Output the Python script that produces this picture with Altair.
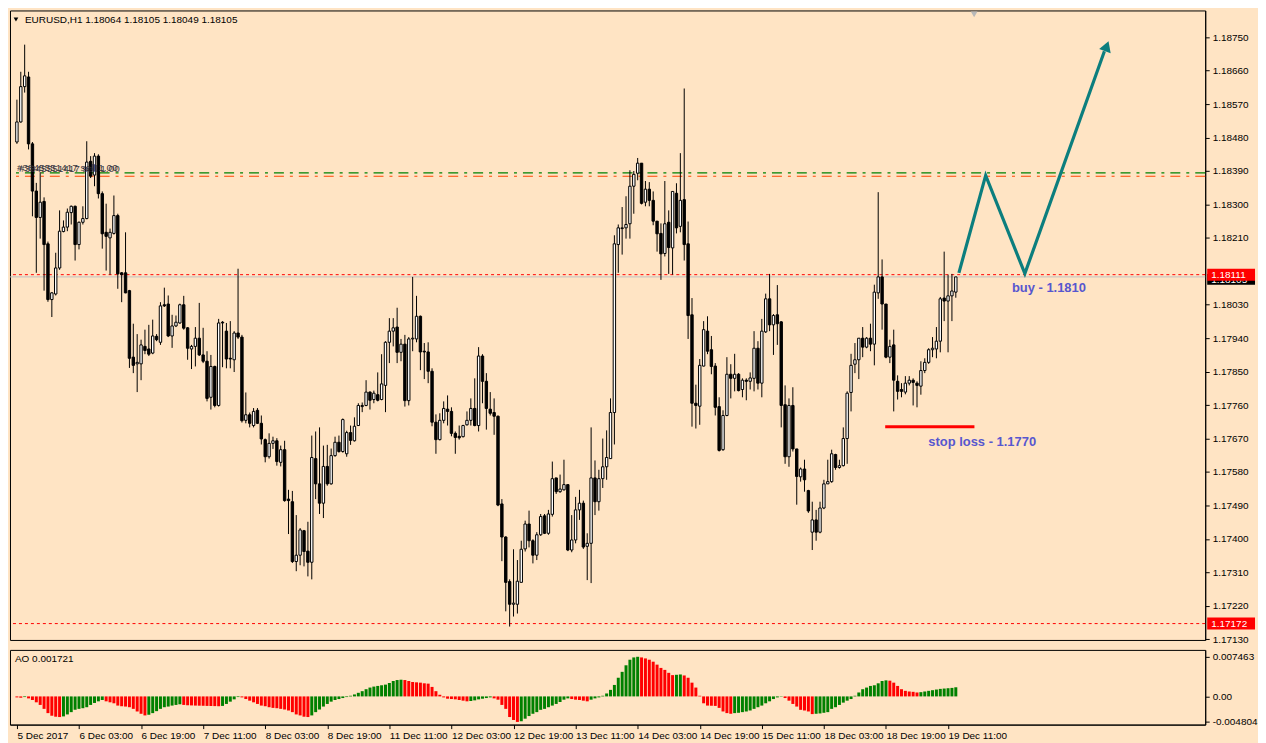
import json
import altair as alt
import pandas as pd

# ---------------- data (EURUSD H1) ----------------
opens = [1.18468,1.18522,1.18617,1.18643,1.18463,1.18336,1.18265,1.18308,1.18194,1.18044,
1.18059,1.18129,1.18227,1.18239,1.18278,1.18295,1.18192,1.18252,1.18262,1.18416,
1.18379,1.18430,1.18329,1.18225,1.18210,1.18222,1.18270,1.18116,1.18116,1.18068,
1.17889,1.17871,1.17871,1.17918,1.17911,1.17900,1.17945,1.17929,1.18030,1.18032,
1.17946,1.17973,1.17981,1.18030,1.17968,1.17911,1.17918,1.17940,1.17895,1.17878,
1.17781,1.17864,1.17759,1.17983,1.17959,1.17886,1.17882,1.17954,1.17943,1.17719,
1.17734,1.17705,1.17746,1.17711,1.17667,1.17621,1.17657,1.17664,1.17606,1.17640,
1.17507,1.17500,1.17339,1.17356,1.17422,1.17367,1.17337,1.17616,1.17548,1.17496,
1.17595,1.17548,1.17624,1.17660,1.17635,1.17629,1.17686,1.17664,1.17705,1.17756,
1.17759,1.17795,1.17775,1.17788,1.17775,1.17813,1.17929,1.17959,1.17970,1.17902,
1.17924,1.17772,1.17938,1.17938,1.17999,1.17905,1.17903,1.17851,1.17714,1.17667,
1.17719,1.17749,1.17743,1.17684,1.17676,1.17675,1.17707,1.17719,1.17751,1.17705,
1.17892,1.17824,1.17749,1.17740,1.17730,1.17494,1.17405,1.17285,1.17224,1.17224,
1.17283,1.17373,1.17440,1.17395,1.17356,1.17411,1.17462,1.17415,1.17466,1.17564,
1.17527,1.17532,1.17546,1.17370,1.17397,1.17478,1.17496,1.17380,1.17388,1.17564,
1.17500,1.17562,1.17594,1.17616,1.17740,1.18192,1.18235,1.18237,1.18248,1.18349,
1.18384,1.18411,1.18306,1.18341,1.18311,1.18255,1.18222,1.18168,1.18252,1.18183,
1.18330,1.18241,1.18313,1.18194,1.18003,1.17765,1.17757,1.17865,1.17959,1.17909,
1.17865,1.17756,1.17640,1.17732,1.17843,1.17832,1.17843,1.17802,1.17827,1.17824,
1.17832,1.17913,1.17819,1.17957,1.18046,1.17976,1.18003,1.17984,1.17761,1.17621,
1.17759,1.17642,1.17567,1.17588,1.17530,1.17418,1.17451,1.17418,1.17483,1.17548,
1.17554,1.17627,1.17592,1.17597,1.17670,1.17794,1.17870,1.17882,1.17940,1.17916,
1.17940,1.17924,1.18062,1.18105,1.18032,1.17889,1.17922,1.17824,1.17802,1.17795,
1.17819,1.17827,1.17819,1.17811,1.17853,1.17875,1.17909,1.17911,1.17932,1.18048,
1.18040,1.18054,1.18064]

highs = [1.18582,1.18657,1.18730,1.18657,1.18468,1.18358,1.18387,1.18319,1.18200,1.18064,
1.18170,1.18284,1.18257,1.18289,1.18297,1.18297,1.18254,1.18295,1.18470,1.18430,
1.18438,1.18435,1.18335,1.18302,1.18235,1.18324,1.18275,1.18118,1.18225,1.18070,
1.17979,1.17951,1.17936,1.17963,1.17976,1.17990,1.17951,1.18037,1.18076,1.18055,
1.18003,1.18001,1.18033,1.18054,1.17970,1.17922,1.17970,1.18035,1.17968,1.17905,
1.17895,1.17866,1.17992,1.17986,1.17981,1.17986,1.17959,1.18127,1.17949,1.17794,
1.17740,1.17752,1.17752,1.17732,1.17670,1.17684,1.17675,1.17671,1.17651,1.17664,
1.17532,1.17529,1.17464,1.17429,1.17424,1.17446,1.17678,1.17689,1.17700,1.17651,
1.17653,1.17643,1.17675,1.17678,1.17724,1.17691,1.17705,1.17727,1.17765,1.17767,
1.17827,1.17797,1.17799,1.17848,1.17897,1.17932,1.17994,1.17994,1.18022,1.17938,
1.17949,1.17943,1.18105,1.18054,1.18001,1.17927,1.17929,1.17859,1.17735,1.17738,
1.17770,1.17786,1.17754,1.17689,1.17705,1.17707,1.17743,1.17778,1.17832,1.17916,
1.17897,1.17846,1.17795,1.17778,1.17732,1.17507,1.17407,1.17291,1.17372,1.17343,
1.17395,1.17449,1.17476,1.17399,1.17418,1.17467,1.17467,1.17478,1.17608,1.17564,
1.17573,1.17613,1.17546,1.17464,1.17513,1.17532,1.17503,1.17415,1.17700,1.17611,
1.17586,1.17670,1.17692,1.17778,1.18217,1.18246,1.18293,1.18322,1.18392,1.18390,
1.18425,1.18411,1.18363,1.18360,1.18335,1.18255,1.18249,1.18363,1.18284,1.18335,
1.18357,1.18438,1.18612,1.18254,1.18048,1.17815,1.17884,1.17986,1.17999,1.17946,
1.17873,1.17781,1.17746,1.17889,1.17870,1.17898,1.17846,1.17832,1.17832,1.17848,
1.17959,1.17932,1.17992,1.18060,1.18113,1.18005,1.18083,1.17986,1.17813,1.17778,
1.17808,1.17642,1.17592,1.17613,1.17532,1.17500,1.17478,1.17500,1.17559,1.17613,
1.17640,1.17629,1.17613,1.17700,1.17797,1.17898,1.17927,1.17940,1.17970,1.17943,
1.17979,1.18084,1.18333,1.18152,1.18032,1.17936,1.17963,1.17840,1.17819,1.17838,
1.17838,1.17832,1.17824,1.17878,1.17886,1.17913,1.17943,1.17970,1.18051,1.18173,
1.18111,1.18113,1.18105]

lows = [1.18463,1.18520,1.18601,1.18448,1.18268,1.18116,1.18208,1.18068,1.18038,1.17997,
1.18055,1.18124,1.18225,1.18228,1.18246,1.18149,1.18179,1.18246,1.18260,1.18371,
1.18349,1.18316,1.18181,1.18122,1.18111,1.18219,1.18073,1.18037,1.18061,1.17860,
1.17846,1.17795,1.17827,1.17897,1.17892,1.17897,1.17932,1.17922,1.18024,1.17943,
1.17914,1.17970,1.17979,1.17963,1.17882,1.17857,1.17864,1.17892,1.17873,1.17770,
1.17748,1.17754,1.17756,1.17862,1.17859,1.17859,1.17849,1.17938,1.17713,1.17711,
1.17700,1.17700,1.17709,1.17654,1.17606,1.17616,1.17642,1.17597,1.17595,1.17500,
1.17413,1.17335,1.17313,1.17329,1.17326,1.17299,1.17291,1.17507,1.17467,1.17456,
1.17543,1.17546,1.17621,1.17632,1.17632,1.17621,1.17653,1.17662,1.17705,1.17741,
1.17757,1.17748,1.17765,1.17770,1.17773,1.17741,1.17873,1.17918,1.17873,1.17878,
1.17756,1.17759,1.17905,1.17929,1.17854,1.17830,1.17819,1.17703,1.17629,1.17665,
1.17711,1.17705,1.17676,1.17629,1.17667,1.17673,1.17705,1.17705,1.17703,1.17689,
1.17765,1.17694,1.17732,1.17680,1.17488,1.17340,1.17205,1.17164,1.17191,1.17199,
1.17283,1.17366,1.17377,1.17334,1.17343,1.17408,1.17413,1.17411,1.17460,1.17521,
1.17524,1.17530,1.17367,1.17364,1.17388,1.17451,1.17373,1.17289,1.17281,1.17464,
1.17476,1.17537,1.17559,1.17616,1.17654,1.18116,1.18165,1.18208,1.18208,1.18275,
1.18365,1.18300,1.18295,1.18295,1.18244,1.18173,1.18097,1.18160,1.18113,1.18111,
1.18222,1.18225,1.18149,1.17938,1.17702,1.17697,1.17707,1.17864,1.17897,1.17843,
1.17732,1.17635,1.17637,1.17730,1.17778,1.17797,1.17797,1.17781,1.17773,1.17802,
1.17797,1.17802,1.17781,1.17954,1.17959,1.17895,1.17922,1.17700,1.17602,1.17594,
1.17635,1.17492,1.17554,1.17527,1.17470,1.17370,1.17395,1.17415,1.17480,1.17548,
1.17551,1.17586,1.17589,1.17595,1.17602,1.17743,1.17846,1.17830,1.17889,1.17913,
1.17905,1.17867,1.18046,1.17963,1.17886,1.17873,1.17743,1.17775,1.17781,1.17789,
1.17813,1.17759,1.17754,1.17788,1.17846,1.17871,1.17889,1.17886,1.17902,1.17986,
1.17902,1.17986,1.18049]

closes = [1.18522,1.18617,1.18646,1.18463,1.18336,1.18265,1.18306,1.18192,1.18044,1.18062,
1.18129,1.18228,1.18239,1.18279,1.18295,1.18192,1.18252,1.18262,1.18414,1.18376,
1.18430,1.18329,1.18221,1.18214,1.18225,1.18270,1.18113,1.18111,1.18062,1.17886,
1.17867,1.17875,1.17922,1.17907,1.17897,1.17946,1.17936,1.18027,1.18027,1.17946,
1.17973,1.17983,1.18030,1.17967,1.17913,1.17918,1.17940,1.17895,1.17878,1.17778,
1.17864,1.17759,1.17981,1.17981,1.17884,1.17884,1.17954,1.17943,1.17718,1.17734,
1.17711,1.17743,1.17711,1.17669,1.17621,1.17657,1.17664,1.17608,1.17640,1.17503,
1.17503,1.17339,1.17356,1.17424,1.17366,1.17337,1.17619,1.17548,1.17496,1.17595,
1.17548,1.17624,1.17660,1.17635,1.17721,1.17686,1.17665,1.17703,1.17759,1.17759,
1.17795,1.17773,1.17792,1.17773,1.17817,1.17929,1.17959,1.17968,1.17902,1.17924,
1.17772,1.17938,1.17940,1.17999,1.17903,1.17903,1.17851,1.17714,1.17667,1.17719,
1.17751,1.17743,1.17684,1.17673,1.17672,1.17705,1.17719,1.17751,1.17705,1.17892,
1.17824,1.17751,1.17738,1.17730,1.17491,1.17405,1.17283,1.17224,1.17227,1.17286,
1.17372,1.17440,1.17395,1.17356,1.17411,1.17460,1.17415,1.17467,1.17562,1.17527,
1.17534,1.17546,1.17370,1.17397,1.17478,1.17496,1.17378,1.17388,1.17564,1.17500,
1.17562,1.17594,1.17619,1.17740,1.18194,1.18237,1.18237,1.18246,1.18349,1.18381,
1.18411,1.18303,1.18341,1.18311,1.18255,1.18221,1.18167,1.18248,1.18184,1.18335,
1.18237,1.18311,1.18192,1.18001,1.17765,1.17759,1.17867,1.17963,1.17905,1.17864,
1.17754,1.17638,1.17732,1.17843,1.17832,1.17843,1.17799,1.17827,1.17824,1.17833,
1.17913,1.17819,1.17959,1.18046,1.17976,1.18001,1.17979,1.17759,1.17621,1.17759,
1.17642,1.17568,1.17588,1.17559,1.17475,1.17451,1.17418,1.17483,1.17548,1.17554,
1.17629,1.17592,1.17597,1.17670,1.17792,1.17867,1.17882,1.17940,1.17916,1.17940,
1.17924,1.18064,1.18105,1.18032,1.17889,1.17918,1.17827,1.17797,1.17797,1.17819,
1.17827,1.17821,1.17813,1.17853,1.17875,1.17909,1.17913,1.17932,1.18046,1.18040,
1.18054,1.18067,1.18105]

ao_values = [-0.000185,-0.000247,-0.000123,-0.000370,-0.000679,-0.001111,-0.001604,-0.002345,-0.003147,-0.003640,
-0.003825,-0.003887,-0.003764,-0.003394,-0.002962,-0.002530,-0.002345,-0.002221,-0.002036,-0.001604,
-0.001234,-0.000926,-0.000679,-0.000926,-0.001111,-0.001296,-0.001728,-0.001851,-0.001913,-0.002036,
-0.002345,-0.002838,-0.003270,-0.003579,-0.003455,-0.003147,-0.002777,-0.002345,-0.002036,-0.001913,
-0.001728,-0.001604,-0.001481,-0.001604,-0.001666,-0.001697,-0.001728,-0.001746,-0.001765,-0.001789,
-0.001808,-0.001826,-0.001851,-0.001789,-0.001419,-0.000987,-0.000555,-0.000123,-0.000185,-0.000494,
-0.000802,-0.001111,-0.001419,-0.001728,-0.001851,-0.002036,-0.002160,-0.002221,-0.002345,-0.002468,
-0.002653,-0.002962,-0.003394,-0.003579,-0.003825,-0.003887,-0.003579,-0.002962,-0.002468,-0.001913,
-0.001419,-0.000987,-0.000679,-0.000494,-0.000309,-0.000123,0.000123,0.000370,0.000679,0.000987,
0.001357,0.001666,0.001851,0.001974,0.002098,0.002221,0.002530,0.002900,0.003085,0.003147,
0.003085,0.002900,0.002715,0.002653,0.002591,0.002468,0.002406,0.001789,0.000987,0.000309,
-0.000185,-0.000432,-0.000494,-0.000555,-0.000679,-0.000802,-0.000926,-0.000864,-0.000740,-0.000555,
-0.000432,-0.000309,-0.000185,-0.000370,-0.000617,-0.001604,-0.002345,-0.003887,-0.004442,-0.004804,
-0.004689,-0.004196,-0.003702,-0.003270,-0.002962,-0.002530,-0.002345,-0.002036,-0.001728,-0.001419,
-0.001049,-0.000617,-0.000370,-0.000494,-0.000617,-0.000679,-0.000802,-0.000926,-0.000617,-0.000370,
-0.000185,0.000123,0.000555,0.001234,0.002160,0.003517,0.004628,0.005862,0.006910,0.007342,
0.007463,0.007342,0.007157,0.006910,0.006540,0.005985,0.005368,0.004998,0.004442,0.004011,
0.004072,0.004134,0.003949,0.003517,0.002591,0.001666,0.000123,-0.001296,-0.001728,-0.001758,
-0.001789,-0.002160,-0.002838,-0.003147,-0.003270,-0.003147,-0.003085,-0.002962,-0.002838,-0.002653,
-0.002345,-0.002036,-0.001728,-0.001296,-0.000926,-0.000494,-0.000185,-0.000062,-0.000309,-0.000802,
-0.001419,-0.001913,-0.002530,-0.002653,-0.002838,-0.003332,-0.003270,-0.003208,-0.003085,-0.002962,
-0.002345,-0.002036,-0.001604,-0.001172,-0.000802,-0.000494,0.000123,0.000740,0.001357,0.001666,
0.001974,0.002098,0.002468,0.002900,0.003023,0.002962,0.002591,0.001974,0.001357,0.001049,
0.000926,0.000864,0.000740,0.000802,0.000926,0.001049,0.001172,0.001296,0.001419,0.001481,
0.001543,0.001604,0.001721]

time_tick_index = [0, 16, 32, 48, 64, 80, 96, 112, 128, 144, 160, 176, 192, 208, 224, 240]
time_tick_labels = ["5 Dec 2017", "6 Dec 03:00", "6 Dec 19:00", "7 Dec 11:00", "8 Dec 03:00",
                    "8 Dec 19:00", "11 Dec 11:00", "12 Dec 03:00", "12 Dec 19:00", "13 Dec 11:00",
                    "14 Dec 03:00", "14 Dec 19:00", "15 Dec 11:00", "18 Dec 03:00", "18 Dec 19:00",
                    "19 Dec 11:00"]
price_ticks = [1.17130, 1.17220, 1.17310, 1.17400, 1.17490, 1.17580, 1.17670, 1.17760, 1.17850,
               1.17940, 1.18030, 1.18210, 1.18300, 1.18390, 1.18480, 1.18570, 1.18660, 1.18750]
ao_ticks = [-0.004804, 0.0, 0.007463]

# horizontal levels
level_red = [1.18111, 1.17172]
level_green = 1.18385
level_orange = 1.18376
bid_price = 1.18105

# forecast path (bar index, price)
path_x = [242.8, 249.7, 259.8, 280.3]
path_y = [1.18116, 1.18378, 1.18114, 1.18712]
arrow_tip = (280.9, 1.18726)
stop_x = [223.8, 246.8]
stop_price = 1.17702

header = "EURUSD,H1  1.18064 1.18105 1.18049 1.18105"
ao_header = "AO 0.001721"
order_label = "#3845551417 sell 1.00"

# ---------------- chart ----------------
W = 1200
H1 = 632
H2 = 75
BG = "#FFE4C4"
FONT = "Liberation Sans"
XDOM = [-0.5, 305]
PDOM = [1.17128, 1.18822]
ADOM = [-0.00531, 0.00876]

xs = alt.Scale(domain=XDOM, nice=False, zero=False)
ps = alt.Scale(domain=PDOM, nice=False, zero=False)
as_ = alt.Scale(domain=ADOM, nice=False, zero=False)

n = len(closes)
cdf = pd.DataFrame({"i": list(range(n)), "o": opens, "h": highs, "l": lows, "c": closes})
cdf["up"] = cdf["c"] >= cdf["o"]

price_axis = alt.Axis(orient="right", values=price_ticks, format=".5f", title=None, grid=False,
                      tickSize=4, tickColor="black", domainColor="black", labelColor="black",
                      labelFont=FONT, labelFontSize=10, labelPadding=3, labelOverlap=False,
                      labelFlush=False)

X = lambda f: alt.X(f, scale=xs, axis=None)
Yp = lambda f: alt.Y(f, scale=ps, axis=price_axis)

# level lines
lv = pd.DataFrame({"p": level_red})
red_lines = alt.Chart(lv).mark_rule(color="#ff0000", strokeDash=[3, 3], strokeWidth=1).encode(
    y=Yp("p:Q"))
bid_line = alt.Chart(pd.DataFrame({"p": [bid_price]})).mark_rule(color="#c0c0c0", strokeWidth=1).encode(
    y=Yp("p:Q"))
green_line = alt.Chart(pd.DataFrame({"p": [level_green]})).mark_rule(
    color="#008000", strokeDash=[10, 6, 3, 6], strokeWidth=1.3).encode(y=Yp("p:Q"))
orange_line = alt.Chart(pd.DataFrame({"p": [level_orange]})).mark_rule(
    color="#ff4500", strokeDash=[10, 6, 3, 6], strokeWidth=1.1).encode(y=Yp("p:Q"))

wicks = alt.Chart(cdf).mark_rule(color="black", strokeWidth=1).encode(
    x=X("i:Q"), y=Yp("l:Q"), y2="h:Q")
bodies = alt.Chart(cdf).mark_bar(size=2.4, stroke="black", strokeWidth=1).encode(
    x=X("i:Q"), y=Yp("o:Q"), y2="c:Q",
    fill=alt.condition("datum.up", alt.value("white"), alt.value("black")))

pdf = pd.DataFrame({"i": path_x, "p": path_y, "k": list(range(len(path_x)))})
path = alt.Chart(pdf).mark_line(color="#0c7e7e", strokeWidth=3.2, strokeCap="butt").encode(
    x=X("i:Q"), y=Yp("p:Q"), order="k:Q")
arrow = alt.Chart(pd.DataFrame({"i": [arrow_tip[0]], "p": [arrow_tip[1]]})).mark_point(
    shape="triangle-up", filled=True, color="#0c7e7e", size=150, angle=20, opacity=1).encode(
    x=X("i:Q"), y=Yp("p:Q"))

sdf = pd.DataFrame({"i": [stop_x[0]], "i2": [stop_x[1]], "p": [stop_price]})
stop_line = alt.Chart(sdf).mark_rule(color="#ff0000", strokeWidth=3).encode(
    x=X("i:Q"), x2="i2:Q", y=Yp("p:Q"))

tdf = pd.DataFrame({"i": [266.0, 248.8], "p": [1.18074, 1.17660], "t": ["buy - 1.1810", "stop loss - 1.1770"]})
ann_text = alt.Chart(tdf).mark_text(font=FONT, fontSize=13, fontWeight="bold", color="#5757cf").encode(
    x=X("i:Q"), y=Yp("p:Q"), text="t:N")

one = pd.DataFrame({"t": [header]})
head_tri = alt.Chart(one).mark_point(shape="triangle-down", filled=True, color="black", size=22, opacity=1).encode(
    x=alt.value(6), y=alt.value(9))
head_txt = alt.Chart(one).mark_text(font=FONT, fontSize=10, align="left", baseline="middle", color="black").encode(
    x=alt.value(15), y=alt.value(10), text="t:N")
top_tri = alt.Chart(one).mark_point(shape="triangle-down", filled=True, color="#b8b8b8", size=45, opacity=1).encode(
    x=alt.value(968), y=alt.value(4))

odf = pd.DataFrame({"t": [order_label, order_label], "x": [7, 9], "y": [158, 159]})
order_txt = alt.Chart(odf).mark_text(font=FONT, fontSize=10, align="left", baseline="middle",
                                     color="#2a2a36", opacity=0.9).encode(
    x=alt.X("x:Q", scale=None, axis=None), y=alt.Y("y:Q", scale=None, axis=None), text="t:N")

# right-side price boxes
bbox = alt.Chart(pd.DataFrame({"p": [bid_price], "t": ["1.18105"]}))
black_box = bbox.mark_rect(color="black", yOffset=-3, y2Offset=8).encode(
    x=alt.value(W + 2), x2=alt.value(W + 50), y=Yp("p:Q"), y2="p:Q")
black_txt = bbox.mark_text(font=FONT, fontSize=10, color="white", align="left", baseline="middle", dy=3).encode(
    x=alt.value(W + 6), y=Yp("p:Q"), text="t:N")
rbox = alt.Chart(pd.DataFrame({"p": level_red, "t": ["1.18111", "1.17172"]}))
red_box = rbox.mark_rect(color="#ff0000", yOffset=-6, y2Offset=6).encode(
    x=alt.value(W + 2), x2=alt.value(W + 50), y=Yp("p:Q"), y2="p:Q")
red_txt = rbox.mark_text(font=FONT, fontSize=10, color="white", align="left", baseline="middle").encode(
    x=alt.value(W + 6), y=Yp("p:Q"), text="t:N")

price_chart = alt.layer(
    red_lines, bid_line, green_line, orange_line, wicks, bodies, path, arrow, stop_line, ann_text,
    head_tri, head_txt, top_tri, order_txt, black_box, black_txt, red_box, red_txt
).properties(width=W, height=H1)

# ---------------- AO panel ----------------
adf = pd.DataFrame({"i": list(range(len(ao_values))), "v": ao_values})
adf["up"] = adf["v"].diff().fillna(-1) > 0

label_expr = json.dumps(time_tick_labels) + "[round(datum.value / 16)]"
x_axis = alt.Axis(values=time_tick_index, labelExpr=label_expr, title=None, grid=False,
                  tickSize=4, tickColor="black", domainColor="black", labelColor="black",
                  labelFont=FONT, labelFontSize=10, labelAlign="left", labelPadding=2,
                  labelFlush=False, labelOverlap=False)
ao_axis = alt.Axis(orient="right", values=ao_ticks, title=None, grid=False,
                   labelExpr="datum.value == 0 ? '0.00' : (datum.value < 0 ? '-' + format(-datum.value, '.6f') : format(datum.value, '.6f'))",
                   tickSize=4, tickColor="black", domainColor="black", labelColor="black",
                   labelFont=FONT, labelFontSize=10, labelPadding=3, labelFlush=False, labelOverlap=False)

ao_bars = alt.Chart(adf).mark_bar(size=3).encode(
    x=alt.X("i:Q", scale=xs, axis=x_axis),
    y=alt.Y("v:Q", scale=as_, axis=ao_axis),
    y2=alt.datum(0),
    color=alt.condition("datum.up", alt.value("#008000"), alt.value("#ff0000")))
ao_txt = alt.Chart(pd.DataFrame({"t": [ao_header]})).mark_text(
    font=FONT, fontSize=10, align="left", baseline="middle", color="black").encode(
    x=alt.value(5), y=alt.value(9), text="t:N")

ao_chart = alt.layer(ao_bars, ao_txt).properties(width=W, height=H2)

chart = alt.vconcat(price_chart, ao_chart, spacing=4).properties(
    padding=0, background=BG
).configure_view(stroke="black", strokeWidth=1, fill=BG).configure_concat(spacing=4)

chart.save("out.html", embed_options={"renderer": "svg", "actions": False})
